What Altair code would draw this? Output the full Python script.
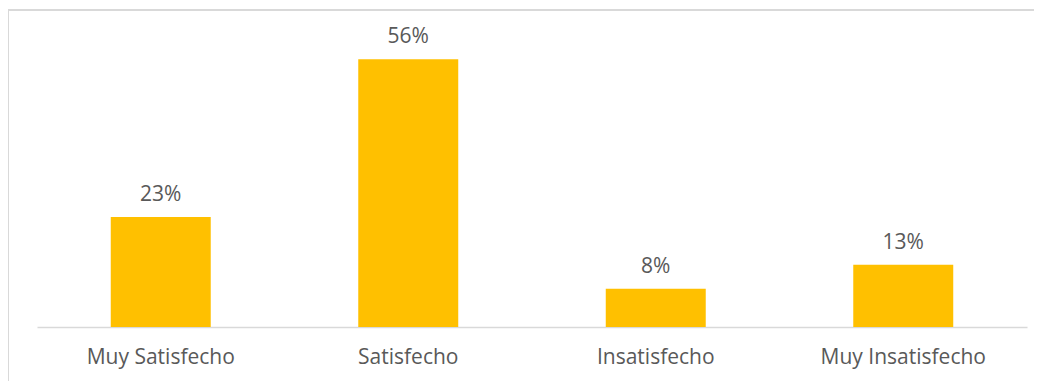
import altair as alt
import pandas as pd

categories = ["Muy Satisfecho", "Satisfecho", "Insatisfecho", "Muy Insatisfecho"]
values = [23, 56, 8, 13]
labels = ["23%", "56%", "8%", "13%"]

df = pd.DataFrame({"cat": categories, "val": values, "lab": labels})

FONT = "Open Sans"
GRAY = "#595959"
FS = 21

x_enc = alt.X(
    "cat:N",
    sort=categories,
    scale=alt.Scale(paddingInner=0.596, paddingOuter=0.298),
    axis=alt.Axis(
        title=None,
        domainColor="#D9D9D9",
        domainWidth=1.5,
        ticks=False,
        labelAngle=0,
        labelFont=FONT,
        labelFontSize=FS,
        labelColor=GRAY,
        labelPadding=19,
    ),
)
y_enc = alt.Y("val:Q", scale=alt.Scale(domain=[0, 60]), axis=None)

bars = alt.Chart(df).mark_bar(color="#FFC000").encode(x=x_enc, y=y_enc)
text = alt.Chart(df).mark_text(
    font=FONT, fontSize=FS, color=GRAY, baseline="alphabetic", dy=-16
).encode(x=alt.X("cat:N", sort=categories), y="val:Q", text="lab:N")

one = pd.DataFrame({"k": [0]})
border_top = alt.Chart(one).mark_rule(
    color="#D9D9D9", strokeWidth=2, clip=False
).encode(x=alt.value(-29), x2=alt.value(1100), y=alt.value(-30))
border_left = alt.Chart(one).mark_rule(
    color="#D9D9D9", strokeWidth=2, clip=False
).encode(x=alt.value(-29), y=alt.value(-30), y2=alt.value(500))

chart = (
    alt.layer(border_top, border_left, bars, text)
    .properties(
        width=990,
        height=287,
        background="white",
        autosize=alt.AutoSizeParams(type="none"),
        padding={"left": 29, "top": 32, "right": 7, "bottom": 60},
    )
    .configure_view(stroke=None)
)

chart.save("out.html", embed_options={"renderer": "svg", "actions": False})
